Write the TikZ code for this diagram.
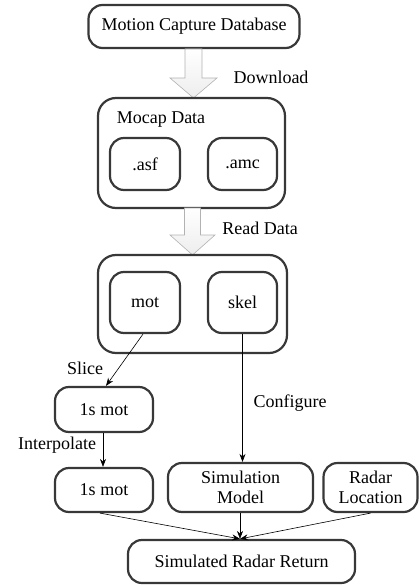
\documentclass[tikz,border=0pt]{standalone}
\usepackage{fontspec}
\setmainfont{Liberation Serif}
\usetikzlibrary{arrows.meta}
\begin{document}
\begin{tikzpicture}[x=1pt,y=-1pt,
  every node/.style={font=\rmfamily\fontsize{18}{20}\selectfont, inner sep=0pt},
  rbox/.style={draw=black!78, line width=2.2pt, rounded corners=14pt, fill=white, align=center},
  cont/.style={draw=black!78, line width=2.2pt, rounded corners=18pt},
  lbl/.style={},
  conn/.style={line width=0.6pt, -{Stealth[length=8pt,width=6pt]}},
  blockarrow/.style={draw=black!30, line width=0.6pt, top color=white, bottom color=black!7}
]
\useasboundingbox (0,0) rectangle (419,585);

% top
\node[rbox, minimum width=211pt, minimum height=43pt] (db) at (194,26.5) {Motion Capture Database};

% block arrow 1
\path[blockarrow] (185,49) -- (202,49) -- (202,78) -- (217,78) -- (193.5,98) -- (170,78) -- (185,78) -- cycle;
\node[lbl] (dl) at (271,77) {Download};

% mocap container
\node[cont, minimum width=187pt, minimum height=110pt] (mocap) at (191.5,153) {};
\node[lbl] (mocaplbl) at (161,120) {Mocap Data};
\node[rbox, minimum width=70pt, minimum height=52pt] (asf) at (145,164) {.asf};
\node[rbox, minimum width=69pt, minimum height=52pt] (amc) at (242.5,164) {.amc};

% block arrow 2
\path[blockarrow] (184.5,208) -- (200.5,208) -- (200.5,235) -- (215,235) -- (192.5,255) -- (170,235) -- (184.5,235) -- cycle;
\node[lbl] (rd) at (260,228) {Read Data};

% second container
\node[cont, minimum width=189pt, minimum height=98pt] (data) at (192.5,304) {};
\node[rbox, minimum width=70pt, minimum height=61pt] (mot) at (145,302.5) {mot};
\node[rbox, minimum width=69pt, minimum height=61pt] (skel) at (242.5,302.5) {skel};

% lower nodes
\node[rbox, minimum width=98pt, minimum height=45pt] (one1) at (104,409.5) {1s mot};
\node[rbox, minimum width=98pt, minimum height=44pt] (one2) at (104,490) {1s mot};
\node[rbox, minimum width=145pt, minimum height=49pt] (sim) at (240.5,487.5) {Simulation\\Model};
\node[rbox, minimum width=94pt, minimum height=49pt] (radar) at (370.5,487.5) {Radar\\Location};
\node[rbox, minimum width=227pt, minimum height=43pt] (ret) at (241.5,561.5) {Simulated Radar Return};

% labels
\node[lbl] (slice) at (85,368) {Slice};
\node[lbl] (interp) at (57,445) {Interpolate};
\node[lbl] (conf) at (290,403) {Configure};

% connectors
\draw[conn] ([xshift=-2pt]mot.south) -- ([xshift=2pt]one1.north);
\draw[conn] ([xshift=-1pt]one1.south) -- ([xshift=-1pt]one2.north);
\draw[conn] (skel.south) -- (skel.south |- sim.north);
\draw[conn] ([xshift=-4pt]one2.south) -- ([xshift=-1.5pt]ret.north);
\draw[conn] ([xshift=-0.5pt]sim.south) -- ([xshift=-1.5pt]ret.north);
\draw[conn] (radar.south) -- ([xshift=-1.5pt]ret.north);
\end{tikzpicture}
\end{document}
